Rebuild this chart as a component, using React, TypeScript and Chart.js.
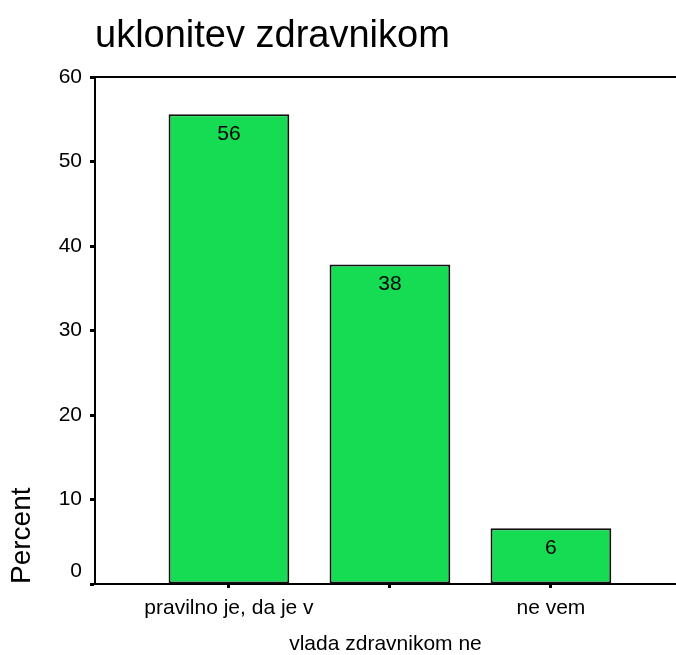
import React, { useEffect, useRef } from 'react';
import { Chart, registerables } from 'chart.js';

Chart.register(...registerables);

const chartTitle = 'uklonitev zdravnikom';
const categories = ['pravilno je, da je v', '', 'ne vem'];
const percentValues = [55.6, 37.8, 6.6];
const valueLabels = ['56', '38', '6'];
const yMin = 0;
const yMax = 60;
const yStep = 10;
const xAxisTitle = 'vlada zdravnikom ne';
const yAxisTitle = 'Percent';

const FONT = '"Liberation Sans", Arial, Helvetica, sans-serif';
const BAR_COLOR = '#16dc54';

const decorPlugin = {
  id: 'decor',
  afterDatasetsDraw(chart: any) {
    const { ctx, chartArea } = chart;
    ctx.save();
    // top frame line
    ctx.strokeStyle = '#000';
    ctx.lineWidth = 2;
    ctx.beginPath();
    ctx.moveTo(chartArea.left, chartArea.top);
    ctx.lineTo(chartArea.right, chartArea.top);
    ctx.stroke();
    // value labels inside bars
    const meta = chart.getDatasetMeta(0);
    ctx.fillStyle = '#000';
    ctx.font = `21px ${FONT}`;
    ctx.textAlign = 'center';
    ctx.textBaseline = 'middle';
    meta.data.forEach((bar: any, i: number) => {
      ctx.fillText(valueLabels[i], bar.x, bar.y + 20);
    });
    // chart title
    ctx.font = `38px ${FONT}`;
    ctx.textAlign = 'left';
    ctx.textBaseline = 'alphabetic';
    ctx.fillText(chartTitle, chartArea.left, 47);
    ctx.restore();
  },
};

export default function App() {
  const ref = useRef<HTMLCanvasElement | null>(null);

  useEffect(() => {
    if (!ref.current) return;
    const chart = new Chart(ref.current, {
      type: 'bar',
      data: {
        datasets: [
          {
            data: percentValues.map((v, i) => ({ x: i, y: v })),
            backgroundColor: BAR_COLOR,
            borderColor: '#111',
            borderWidth: 2,
            borderSkipped: false,
            categoryPercentage: 1,
            barPercentage: 0.75,
          },
        ],
      },
      plugins: [decorPlugin],
      options: {
        animation: false,
        responsive: false,
        events: [],
        layout: { padding: { top: 77, left: 0, right: 0, bottom: 0 } },
        plugins: {
          legend: { display: false },
          tooltip: { enabled: false },
          title: { display: false },
        },
        scales: {
          x: {
            type: 'linear',
            offset: false,
            min: -0.832,
            max: 2.777,
            afterBuildTicks: (axis: any) => {
              axis.ticks = categories.map((_, i) => ({ value: i }));
            },
            afterFit: (scale: any) => {
              scale.height = 71;
            },
            grid: {
              display: true,
              offset: false,
              drawOnChartArea: false,
              drawTicks: true,
              tickLength: 4,
              tickWidth: 3,
              tickColor: '#000',
            },
            border: { display: true, color: '#000', width: 2 },
            ticks: {
              autoSkip: false,
              maxRotation: 0,
              minRotation: 0,
              padding: 8,
              color: '#000',
              font: { family: FONT, size: 21 },
              callback: (v: any) => categories[v] ?? '',
            },
            title: {
              display: true,
              text: xAxisTitle,
              color: '#000',
              font: { family: FONT, size: 21, lineHeight: 1 },
              padding: { top: 0, bottom: 0 },
            },
          },
          y: {
            min: yMin,
            max: yMax,
            afterFit: (scale: any) => {
              scale.width = 95;
            },
            grid: {
              display: true,
              drawOnChartArea: false,
              drawTicks: true,
              tickLength: 5,
              tickWidth: 3,
              tickColor: '#000',
            },
            border: { display: true, color: '#000', width: 2 },
            ticks: {
              stepSize: yStep,
              padding: 8,
              color: '#000',
              font: { family: FONT, size: 21 },
              callback: (v: any) => (v === 0 ? ['0', ''] : String(v)),
            },
            title: {
              display: true,
              text: yAxisTitle,
              align: 'start',
              color: '#000',
              font: { family: FONT, size: 28 },
              padding: { top: 5, bottom: 0 },
            },
          },
        },
      } as any,
    });
    return () => chart.destroy();
  }, []);

  return (
    <div style={{ position: 'fixed', left: 0, top: 0, width: 676, height: 655, background: '#fff' }}>
      <canvas ref={ref} width={676} height={655} style={{ display: 'block' }} />
    </div>
  );
}
